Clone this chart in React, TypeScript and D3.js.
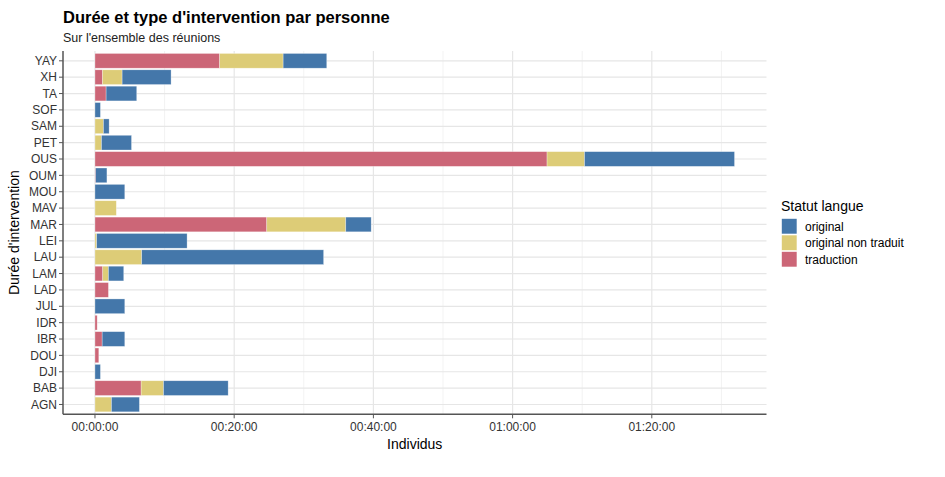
import React from "react";
import * as d3 from "d3";

// Categories (top to bottom)
const persons = ["YAY","XH","TA","SOF","SAM","PET","OUS","OUM","MOU","MAV","MAR","LEI","LAU","LAM","LAD","JUL","IDR","IBR","DOU","DJI","BAB","AGN"];
// durations in seconds
const traduction = [1075,65,96,0,0,0,3897,6,0,0,1481,0,0,67,116,0,19,62,33,0,398,0];
const originalNonTraduit = [547,169,0,0,73,56,323,0,0,184,681,15,403,49,0,0,0,0,0,0,193,142];
const original = [376,422,264,47,49,259,1293,97,257,0,219,779,1568,132,0,257,0,195,0,47,557,241];

const seriesKeys = ["traduction","original non traduit","original"];
const legendKeys = ["original","original non traduit","traduction"];
const colors: Record<string,string> = {
  "original": "#4477AA",
  "original non traduit": "#DDCC77",
  "traduction": "#CC6677",
};
const xTicks = [0, 1200, 2400, 3600, 4800];
const xMinor = [600, 1800, 3000, 4200, 5400];

function fmt(s: number) {
  const h = Math.floor(s / 3600), m = Math.floor((s % 3600) / 60), sec = s % 60;
  const p = (n: number) => String(n).padStart(2, "0");
  return `${p(h)}:${p(m)}:${p(sec)}`;
}

export default function App() {
  const W = 945, H = 477;
  const left = 63, right = 766.5, top = 51, bottom = 414.3;
  const font = "'Liberation Sans', Arial, sans-serif";

  const rows = persons.map((p, i) => ({
    person: p,
    traduction: traduction[i],
    "original non traduit": originalNonTraduit[i],
    original: original[i],
  }));
  const stack = d3.stack<any>().keys(seriesKeys)(rows);
  const maxTotal = d3.max(rows, (r) => r.traduction + r["original non traduit"] + r.original) as number;

  const x = d3.scaleLinear().domain([-0.05 * maxTotal, 1.05 * maxTotal]).range([left, right]);
  const n = persons.length;
  const step = (bottom - top) / (n - 1 + 1.2);
  const y = (i: number) => top + (0.6 + i) * step;
  const bh = step * 0.9;

  return (
    <svg width={W} height={H} style={{ display: "block", position: "absolute", left: 0, top: 0 }} fontFamily={font}>
      <rect width={W} height={H} fill="white" />
      <text x={63} y={23} fontSize={16.5} fontWeight="bold" fill="#000">Durée et type d'intervention par personne</text>
      <text x={63} y={42} fontSize={12.5} fill="#222">Sur l'ensemble des réunions</text>

      {/* grid */}
      {xMinor.map((t) => (
        <line key={"mn" + t} x1={x(t)} x2={x(t)} y1={top} y2={bottom} stroke="#ececec" strokeWidth={0.7} />
      ))}
      {xTicks.map((t) => (
        <line key={"mj" + t} x1={x(t)} x2={x(t)} y1={top} y2={bottom} stroke="#e6e6e6" strokeWidth={1.2} />
      ))}
      {persons.map((p, i) => (
        <line key={"hg" + p} x1={left} x2={right} y1={y(i)} y2={y(i)} stroke="#e6e6e6" strokeWidth={1.2} />
      ))}

      {/* bars */}
      {stack.map((s) => (
        <g key={s.key} fill={colors[s.key]}>
          {s.map((d: any, i: number) =>
            d[1] - d[0] > 0 ? (
              <rect key={i} x={x(d[0])} y={y(i) - bh / 2} width={x(d[1]) - x(d[0])} height={bh}
                stroke="#ffffff" strokeOpacity={0.5} strokeWidth={0.6} />
            ) : null
          )}
        </g>
      ))}

      {/* axes */}
      <line x1={left} x2={left} y1={top} y2={bottom} stroke="#555" strokeWidth={1.5} />
      <line x1={left} x2={right} y1={bottom} y2={bottom} stroke="#555" strokeWidth={1.5} />
      {persons.map((p, i) => (
        <g key={"yt" + p}>
          <line x1={left - 4} x2={left} y1={y(i)} y2={y(i)} stroke="#555" strokeWidth={1} />
          <text x={left - 6} y={y(i)} dy="0.35em" textAnchor="end" fontSize={12} fill="#333">{p}</text>
        </g>
      ))}
      {xTicks.map((t) => (
        <g key={"xt" + t}>
          <line x1={x(t)} x2={x(t)} y1={bottom} y2={bottom + 4} stroke="#555" strokeWidth={1} />
          <text x={x(t)} y={bottom + 17} textAnchor="middle" fontSize={12} fill="#333">{fmt(t)}</text>
        </g>
      ))}
      <text x={(left + right) / 2} y={449} textAnchor="middle" fontSize={14} fill="#000">Individus</text>
      <text transform={`translate(19,${(top + bottom) / 2}) rotate(-90)`} textAnchor="middle" fontSize={14} fill="#000">Durée d'intervention</text>

      {/* legend */}
      <text x={781} y={211} fontSize={14} fill="#000">Statut langue</text>
      {legendKeys.map((k, i) => (
        <g key={"lg" + k}>
          <rect x={781.5} y={218.5 + i * 16.5} width={15.5} height={15.5} fill={colors[k]} stroke="#fff" strokeWidth={0.6} />
          <text x={805} y={226.5 + i * 16.5} dy="0.35em" fontSize={12} fill="#000">{k}</text>
        </g>
      ))}
    </svg>
  );
}
